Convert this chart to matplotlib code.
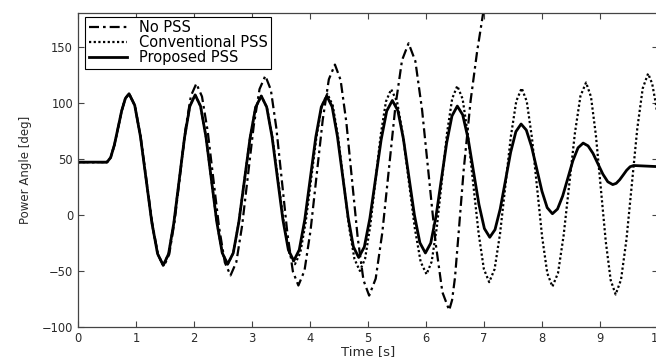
"""Power angle response: no PSS vs conventional PSS vs proposed PSS."""

import matplotlib
matplotlib.use("Agg")
import matplotlib.pyplot as plt

plt.rcParams["font.family"] = ["DejaVu Sans"]

# ---- data (time [s], power angle [deg]) ----
# common pre-fault / first swing part (all three curves coincide)
t_start = [0.0, 0.50, 0.563, 0.627, 0.69, 0.753, 0.817, 0.88]
y_start = [47, 47, 51.1, 62.3, 77.5, 92.8, 103.9, 108]

# proposed and conventional PSS overlap until ~3.2 s
t_early = [0.978, 1.077, 1.175, 1.273, 1.372, 1.47, 1.562, 1.653, 1.745, 1.837,
           1.928, 2.02, 2.113, 2.207, 2.30, 2.393, 2.487, 2.58, 2.677, 2.773,
           2.87, 2.967, 3.063, 3.16]
y_early = [97.7, 69.8, 31.5, -6.8, -34.7, -45, -34.8, -7, 31, 69,
           96.8, 107, 96.9, 69.3, 31.5, -6.3, -33.9, -44, -34, -6.5,
           31, 68.5, 96, 106]

t_prop_tail = [3.253, 3.347, 3.44, 3.533, 3.627, 3.72, 3.815, 3.91, 4.005, 4.10,
               4.195, 4.29, 4.382, 4.473, 4.565, 4.657, 4.748, 4.84, 4.937, 5.033,
               5.13, 5.227, 5.323, 5.42, 5.515, 5.61, 5.705, 5.80, 5.895, 5.99,
               6.082, 6.173, 6.265, 6.357, 6.448, 6.54, 6.633, 6.727, 6.82, 6.913,
               7.007, 7.10, 7.19, 7.28, 7.37, 7.46, 7.55, 7.64, 7.73, 7.82,
               7.91, 8.00, 8.09, 8.18, 8.268, 8.357, 8.445, 8.533, 8.622, 8.71,
               8.795, 8.88, 8.965, 9.05, 9.135, 9.22, 9.28, 9.34, 9.40, 9.46,
               9.52, 9.58, 10.0]
y_prop_tail = [96.2, 69.3, 32.5, -4.3, -31.2, -41, -31.2, -4.3, 32.5, 69.3,
               96.2, 106, 96.4, 70, 34, -2, -28.4, -38, -28.6, -3,
               32, 67, 92.6, 102, 92.9, 68, 34, 0, -24.9, -34,
               -25.2, -1.3, 31.5, 64.3, 88.2, 97, 89.2, 67.8, 38.5, 9.3,
               -12.2, -20, -13.2, 5.3, 30.5, 55.8, 74.2, 81, 75.6, 61,
               41, 21, 6.4, 1, 5.2, 16.8, 32.5, 48.3, 59.8, 64,
               61.5, 54.8, 45.5, 36.3, 29.5, 27, 28.1, 31.3, 35.5, 39.8,
               42.9, 44, 43]

t_conv_tail = [3.257, 3.353, 3.45, 3.547, 3.643, 3.74, 3.833, 3.927, 4.02, 4.113,
               4.207, 4.30, 4.393, 4.487, 4.58, 4.673, 4.767, 4.86, 4.95, 5.04,
               5.13, 5.22, 5.31, 5.40, 5.502, 5.603, 5.705, 5.807, 5.908, 6.01,
               6.098, 6.187, 6.275, 6.363, 6.452, 6.54, 6.632, 6.723, 6.815, 6.907,
               6.998, 7.09, 7.183, 7.277, 7.37, 7.463, 7.557, 7.65, 7.738, 7.827,
               7.915, 8.003, 8.092, 8.18, 8.277, 8.373, 8.47, 8.567, 8.663, 8.76,
               8.845, 8.93, 9.015, 9.10, 9.185, 9.27, 9.363, 9.457, 9.55, 9.643,
               9.737, 9.83, 9.90, 9.96, 10.0]
y_conv_tail = [96, 68.5, 31, -6.5, -34, -44, -33.8, -6, 32, 70,
               97.8, 108, 97.4, 68.5, 29, -10.5, -39.4, -50, -39.1, -9.5,
               31, 71.5, 101.1, 112, 100.9, 70.8, 29.5, -11.8, -41.9, -53,
               -41.7, -11, 31, 73, 103.7, 115, 103.3, 71.3, 27.5, -16.3,
               -48.3, -60, -48.4, -16.8, 26.5, 69.8, 101.4, 113, 101.1, 68.8,
               24.5, -19.8, -52.1, -64, -51.8, -18.5, 27, 72.5, 105.8, 118,
               105.3, 70.8, 23.5, -23.8, -58.3, -71, -57.8, -21.8, 27.5, 76.8,
               112.8, 126, 117, 100, 86]

t_nopss_tail = [0.98, 1.08, 1.18, 1.28, 1.38, 1.48, 1.573, 1.667, 1.76, 1.853,
                1.947, 2.04, 2.138, 2.237, 2.335, 2.433, 2.532, 2.63, 2.73, 2.83,
                2.93, 3.03, 3.13, 3.23, 3.325, 3.42, 3.515, 3.61, 3.705, 3.80,
                3.905, 4.01, 4.115, 4.22, 4.325, 4.43, 4.528, 4.627, 4.725, 4.823,
                4.922, 5.02, 5.133, 5.247, 5.36, 5.473, 5.587, 5.70, 5.817, 5.933,
                6.05, 6.167, 6.283, 6.40, 6.45, 6.50, 6.56, 6.65, 6.77, 6.88,
                6.98, 7.03]
y_nopss_tail = [97.7, 69.5, 31, -7.5, -35.7, -46, -35.1, -5.3, 35.5, 76.3,
                106.1, 117, 105.5, 74.3, 31.5, -11.3, -42.5, -54, -42.1, -9.5,
                35, 79.5, 112.1, 124, 111.5, 77.3, 30.5, -16.3, -50.5, -63,
                -49.8, -13.8, 35.5, 84.8, 120.8, 134, 120.2, 82.5, 31, -20.5,
                -58.2, -72, -56.9, -15.8, 40.5, 96.8, 137.9, 153, 137, 93.5,
                34, -25.5, -69, -85, -76, -56, -18, 40, 102, 145,
                178, 195]

labels = ["No PSS", "Conventional PSS", "Proposed PSS"]
x_ticks = list(range(0, 11))
y_ticks = [-100, -50, 0, 50, 100, 150]

t_nopss = t_start + t_nopss_tail
y_nopss = y_start + y_nopss_tail
t_conv = t_start + t_early + t_conv_tail
y_conv = y_start + y_early + y_conv_tail
t_prop = t_start + t_early + t_prop_tail
y_prop = y_start + y_early + y_prop_tail

fig = plt.figure(figsize=(6.56, 3.58), dpi=100)
# axes run slightly past the right edge, as in the cropped original
ax = fig.add_axes([0.1189, 0.0866, 0.8841, 0.8771])

ax.plot(t_nopss, y_nopss, color="black", linewidth=1.6,
        linestyle=(0, (4.5, 1.8, 1.2, 1.8)), label=labels[0])
ax.plot(t_conv, y_conv, color="black", linewidth=1.6,
        linestyle=(0, (1.0, 1.1)), label=labels[1])
ax.plot(t_prop, y_prop, color="black", linewidth=2.0,
        linestyle="-", label=labels[2])

ax.set_xlim(0, 10)
ax.set_ylim(-100, 180)
ax.set_xticks(x_ticks)
ax.set_yticks(y_ticks)
ax.tick_params(direction="in", length=4, width=0.8, top=True, right=True,
               labelsize=8.3, pad=3.5, colors="#444444", labelcolor="#2a2a2a")
for s in ax.spines.values():
    s.set_color("#444444")
    s.set_linewidth(0.9)

ax.set_xlabel("Time [s]", fontsize=9.5, labelpad=0, color="#2a2a2a")
ax.set_ylabel("Power Angle [deg]", fontsize=8.5, labelpad=7, color="#2a2a2a")

leg = ax.legend(loc="upper left", bbox_to_anchor=(0.012, 0.988),
                borderaxespad=0, fontsize=10.5, frameon=True, fancybox=False,
                framealpha=1, edgecolor="black", handlelength=2.6,
                handletextpad=0.85, labelspacing=0.0, borderpad=0.25)
leg.get_frame().set_linewidth(0.8)

fig.savefig("out.png", dpi=100)
